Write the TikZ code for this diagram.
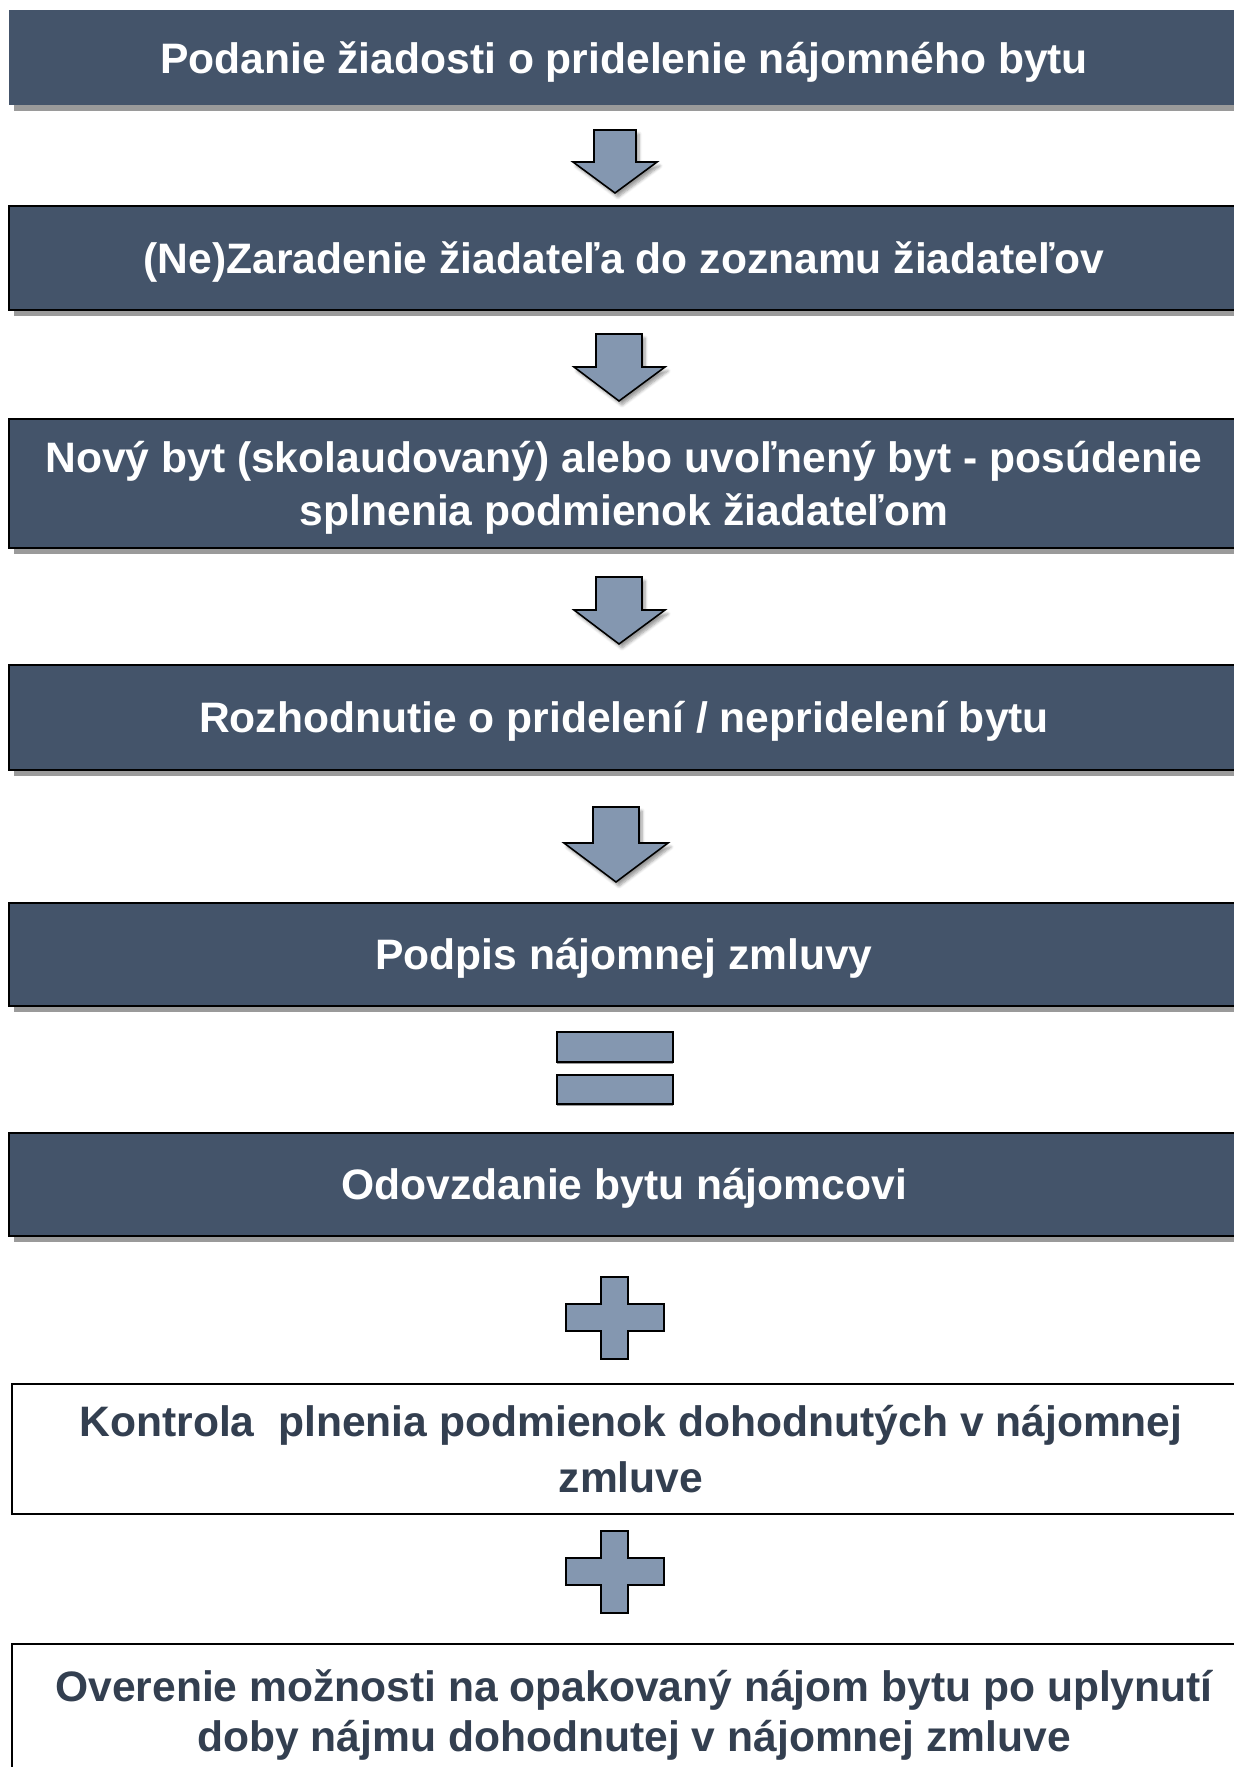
\documentclass[tikz,border=0pt]{standalone}
\usepackage{fontspec}
\setmainfont{Liberation Sans}
\usetikzlibrary{shadows,shadows.blur}
\definecolor{boxblue}{HTML}{44546A}
\definecolor{arrowblue}{HTML}{8497B0}
\definecolor{darktext}{HTML}{333F50}
\definecolor{shadowgray}{HTML}{9A9A9A}
\tikzset{
  darkbox/.style={rectangle, fill=boxblue, draw=black, line width=2pt, text=white,
    font=\fontsize{42.6}{53}\selectfont\bfseries, align=center, minimum width=1230pt,
    text depth=0.05em,
    general shadow={fill=shadowgray, shadow xshift=5pt, shadow yshift=-6pt}},
  whitebox/.style={rectangle, fill=white, draw=black, line width=2pt, text=darktext,
    font=\fontsize{42.6}{56}\selectfont\bfseries, align=center, text depth=0.05em,
    anchor=west},
  blockshape/.style={fill=arrowblue, draw=black, line width=1.6pt, line join=miter},
  arrshadow/.style={blur shadow={shadow xshift=3pt, shadow yshift=-4pt, shadow blur steps=6, shadow blur radius=3pt}},
}
\begin{document}
\begin{tikzpicture}[x=1pt, y=-1pt]
\useasboundingbox (0,0) rectangle (1234,1767);
\clip (0,0) rectangle (1234,1767);

\node[darkbox, draw=none, minimum height=95pt] (b1) at (624,57.5) {Podanie žiadosti o pridelenie nájomného bytu};
\node[darkbox, minimum height=104pt] (b2) at (624,258) {(Ne)Zaradenie žiadateľa do zoznamu žiadateľov};
\node[darkbox, minimum height=129pt] (b3) at (624,483.5) {Nový byt (skolaudovaný) alebo uvoľnený byt - posúdenie\\splnenia podmienok žiadateľom};
\node[darkbox, minimum height=105pt] (b4) at (624,717.5) {Rozhodnutie o pridelení / nepridelení bytu};
\node[darkbox, minimum height=103pt] (b5) at (624,954.5) {Podpis nájomnej zmluvy};
\node[darkbox, minimum height=103pt] (b6) at (624,1184.5) {Odovzdanie bytu nájomcovi};
\node[whitebox, minimum width=1238pt, minimum height=130pt] (b7) at (11,1449) {Kontrola\ \ plnenia podmienok dohodnutých v nájomnej\\zmluve};
\node[whitebox, minimum width=1244pt, minimum height=134pt, font=\fontsize{42.6}{50}\selectfont\bfseries] (b8) at (11,1711) {Overenie možnosti na opakovaný nájom bytu po uplynutí\\doby nájmu dohodnutej v nájomnej zmluve};

% block arrows
\path[blockshape, arrshadow] (594,130) -- (636,130) -- (636,162) -- (657,162) -- (615,193) -- (573,162) -- (594,162) -- cycle;
\path[blockshape, arrshadow] (596,334) -- (642,334) -- (642,367) -- (665,367) -- (619,401) -- (574,367) -- (596,367) -- cycle;
\path[blockshape, arrshadow] (596,577) -- (642,577) -- (642,610) -- (665,610) -- (619,644) -- (574,610) -- (596,610) -- cycle;
\path[blockshape, arrshadow] (593,807) -- (639,807) -- (639,843) -- (668,843) -- (616,882) -- (564,843) -- (593,843) -- cycle;

% equals sign
\path[blockshape, line width=2.6pt, general shadow={fill=shadowgray, shadow xshift=0pt, shadow yshift=-2pt}] (557,1032) rectangle (673,1062);
\path[blockshape, line width=2.6pt, general shadow={fill=shadowgray, shadow xshift=0pt, shadow yshift=-2pt}] (557,1075) rectangle (673,1104);

% plus signs
\path[blockshape, line width=2pt] (601,1277) -- (628,1277) -- (628,1304) -- (664,1304) -- (664,1331) -- (628,1331) -- (628,1359) -- (601,1359) -- (601,1331) -- (566,1331) -- (566,1304) -- (601,1304) -- cycle;
\path[blockshape, line width=2pt] (601,1531) -- (628,1531) -- (628,1558) -- (664,1558) -- (664,1585) -- (628,1585) -- (628,1613) -- (601,1613) -- (601,1585) -- (566,1585) -- (566,1558) -- (601,1558) -- cycle;
\end{tikzpicture}
\end{document}
